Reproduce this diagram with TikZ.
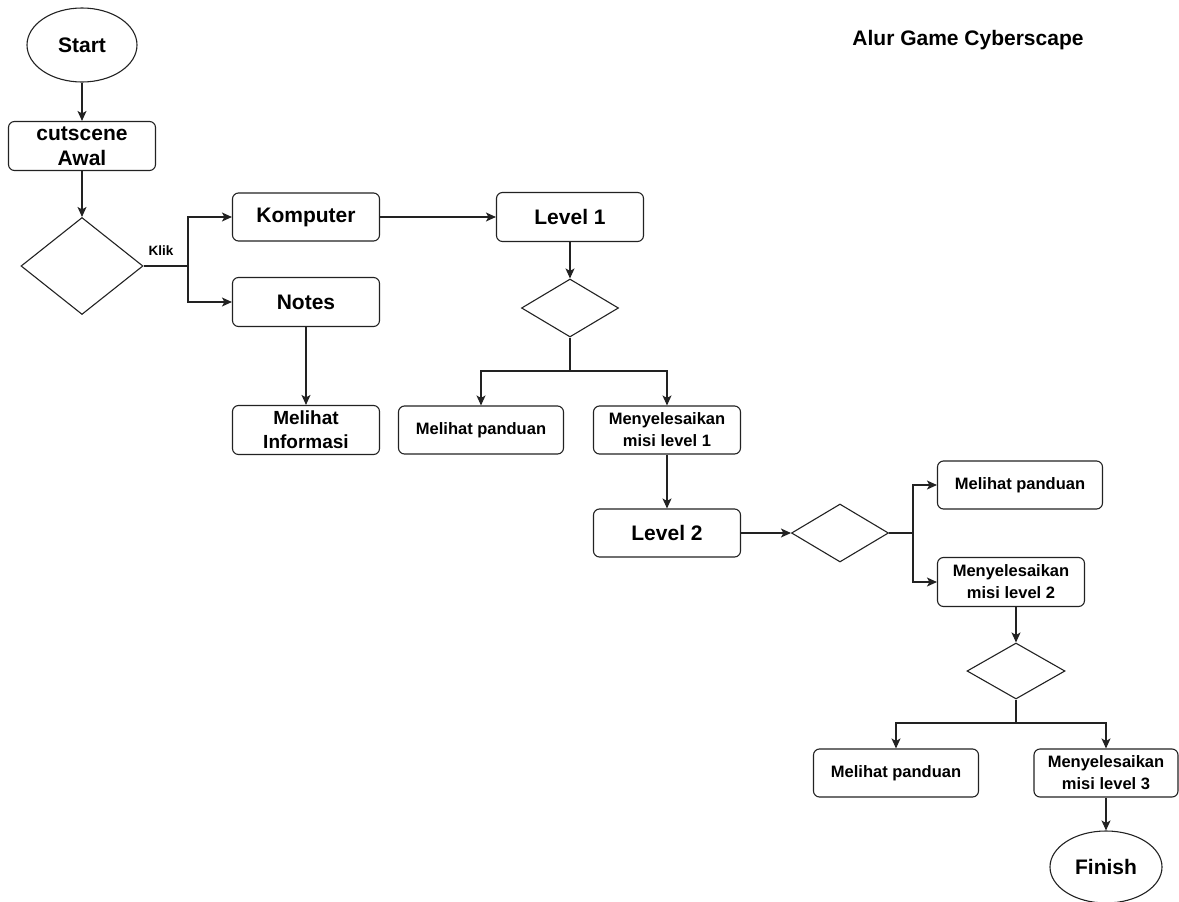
\documentclass[tikz,border=0pt]{standalone}
\usepackage{fontspec}
\setmainfont{Liberation Sans}
\usetikzlibrary{shapes.geometric,arrows.meta}
\definecolor{ln}{HTML}{222222}
\tikzset{
  box/.style={draw=ln,line width=1.1pt,rounded corners=6pt,rectangle,inner sep=0pt,align=center,font=\bfseries},
  term/.style={draw=ln,line width=1.1pt,ellipse,inner sep=0pt,minimum width=110pt,minimum height=74pt,font=\bfseries\fontsize{21}{24}\selectfont},
  dec/.style={draw=ln,line width=1.1pt,diamond,inner sep=0pt},
  big/.style={font=\bfseries\fontsize{21}{25}\selectfont},
  mid/.style={font=\bfseries\fontsize{19}{24}\selectfont},
  small/.style={font=\bfseries\fontsize{16.5}{22}\selectfont},
  conn/.style={draw=ln,line width=1.1pt,-{Stealth[length=10pt,width=9pt,inset=2.5pt]}},
  plain/.style={draw=ln,line width=1.1pt}
}
\begin{document}
\begin{tikzpicture}[x=1pt,y=-1pt]
\useasboundingbox (0,0) rectangle (1179,902);
% title
\node[font=\bfseries\fontsize{21}{24}\selectfont] (title) at (968,40) {Alur Game Cyberscape};
% left column
\node[term] (start) at (82,45) {Start};
\node[box,big,minimum width=147pt,minimum height=49pt] (cut) at (82,146) {cutscene\\Awal};
\node[dec,minimum width=122pt,minimum height=97pt] (d1) at (82,266) {};
\node[box,big,minimum width=147pt,minimum height=48pt] (komp) at (306,217) {Komputer};
\node[box,big,minimum width=147pt,minimum height=49pt] (notes) at (306,302) {Notes};
\node[box,mid,minimum width=147pt,minimum height=49pt] (info) at (306,430) {Melihat\\Informasi};
% level 1
\node[box,big,minimum width=147pt,minimum height=49pt] (l1) at (570,217) {Level 1};
\node[dec,minimum width=97pt,minimum height=58pt] (d2) at (570,308) {};
\node[box,small,minimum width=165pt,minimum height=48pt] (mp1) at (481,430) {Melihat panduan};
\node[box,small,minimum width=147pt,minimum height=48pt] (m1) at (667,430) {Menyelesaikan\\misi level 1};
% level 2
\node[box,big,minimum width=147pt,minimum height=48pt] (l2) at (667,533) {Level 2};
\node[dec,minimum width=97pt,minimum height=58pt] (d3) at (840,533) {};
\node[box,small,minimum width=165pt,minimum height=48pt] (mp2) at (1020,485) {Melihat panduan};
\node[box,small,minimum width=147pt,minimum height=49pt] (m2) at (1011,582) {Menyelesaikan\\misi level 2};
\node[dec,minimum width=98pt,minimum height=56pt] (d4) at (1016,671) {};
% level 3
\node[box,small,minimum width=165pt,minimum height=48pt] (mp3) at (896,773) {Melihat panduan};
\node[box,small,minimum width=144pt,minimum height=48pt] (m3) at (1106,773) {Menyelesaikan\\misi level 3};
\node[term,minimum width=112pt,minimum height=72pt] (fin) at (1106,867) {Finish};
% junction coordinates
\coordinate (j1) at (188,266);
\coordinate (j2) at (570,371);
\coordinate (j3) at (913,533);
\coordinate (j4) at (1016,723);
% connectors
\draw[conn] (start) -- (cut);
\draw[conn] (cut) -- (d1);
\draw[plain] (d1.east) -- (j1);
\draw[conn] (j1) |- (komp.west);
\draw[conn] (j1) |- (notes.west);
\node[font=\bfseries\fontsize{13.5}{16}\selectfont] (klik) at (161,251) {Klik};
\draw[conn] (komp) -- (l1);
\draw[conn] (notes) -- (info);
\draw[conn] (l1) -- (d2);
\draw[plain] (d2.south) -- (j2);
\draw[conn] (j2) -| (mp1.north);
\draw[conn] (j2) -| (m1.north);
\draw[conn] (m1) -- (l2);
\draw[conn] (l2) -- (d3);
\draw[plain] (d3.east) -- (j3);
\draw[conn] (j3) |- (mp2.west);
\draw[conn] (j3) |- (m2.west);
\draw[conn] (m2.south -| d4.north) -- (d4.north);
\draw[plain] (d4.south) -- (j4);
\draw[conn] (j4) -| (mp3.north);
\draw[conn] (j4) -| (m3.north);
\draw[conn] (m3) -- (fin);
\end{tikzpicture}
\end{document}
